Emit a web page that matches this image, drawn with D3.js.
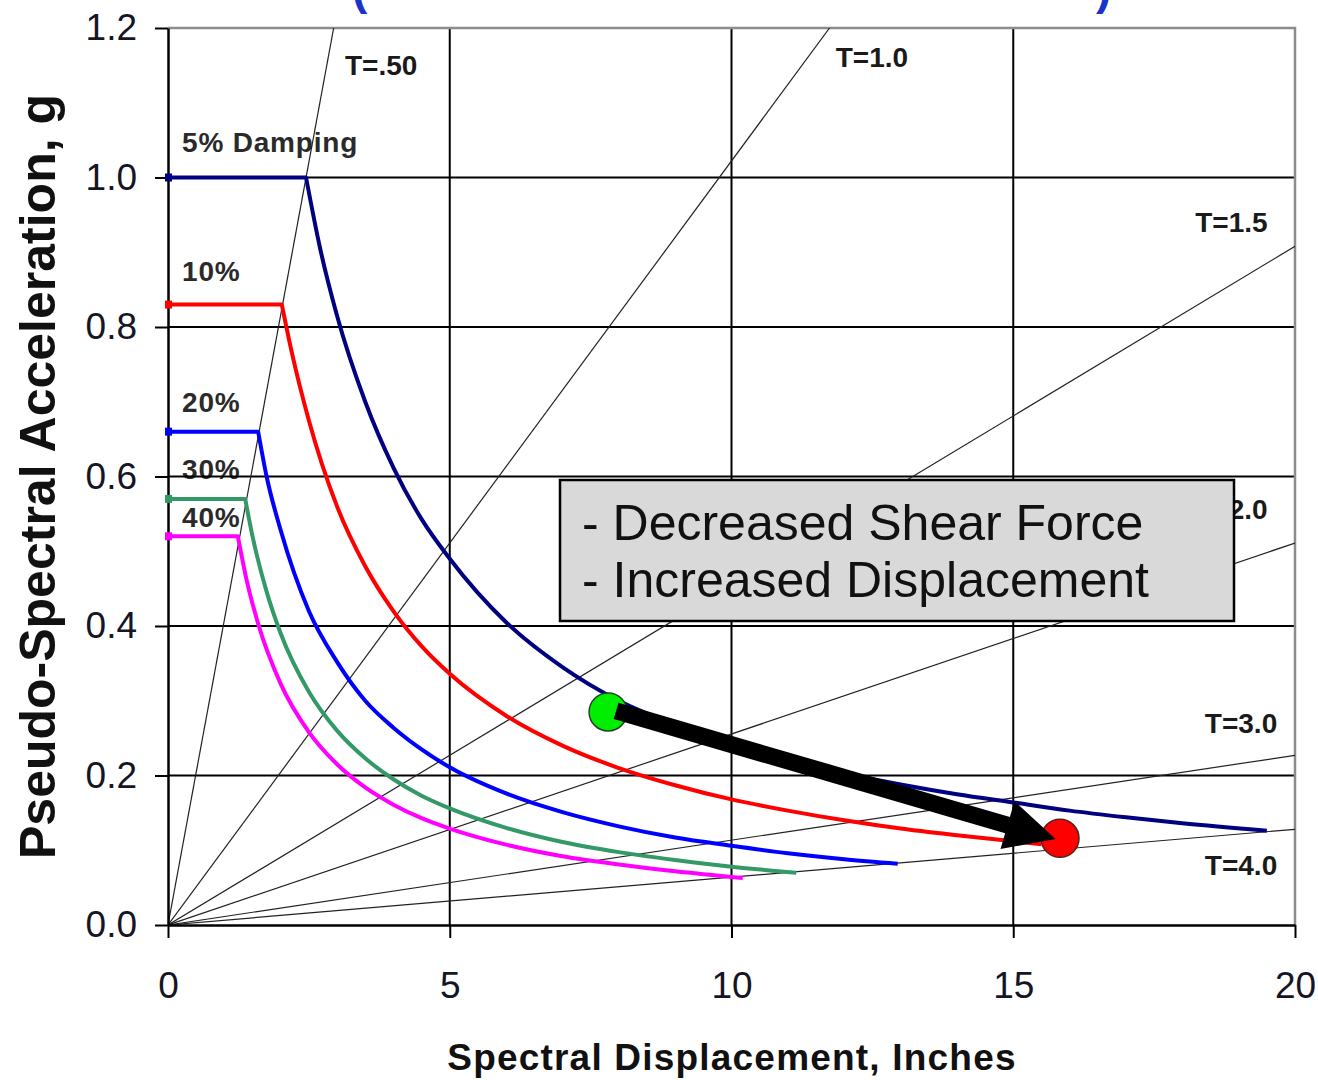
<!DOCTYPE html>
<html>
<head>
<meta charset="utf-8">
<script src="https://cdn.jsdelivr.net/npm/d3@7"></script>
<style>
  body { margin: 0; background: #fff; }
  svg { display: block; font-family: Arial, "Liberation Sans", sans-serif; }
</style>
</head>
<body>
<svg id="chart" width="1318" height="1080"></svg>
<script>
// ------------------
// Data
// ------------------
const sdTicks = [0, 5, 10, 15, 20];
const saTicks = [0, 0.2, 0.4, 0.6, 0.8, 1.0, 1.2];

// constant-period lines: label, end point [Sd, Sa]
const periodLabels = ["T=.50", "T=1.0", "T=1.5", "T=2.0", "T=3.0", "T=4.0"];
const periodEnds = [[2.94, 1.2], [11.74, 1.2], [20, 0.908], [20, 0.511], [20, 0.227], [20, 0.128]];

const dampingLabels = ["5% Damping", "10%", "20%", "30%", "40%"];

const damp5 = [[0, 1.0], [2.45, 1.0], [2.7, 0.905], [3.0, 0.815], [3.5, 0.70], [4, 0.612], [4.5, 0.543],
  [5, 0.49], [6, 0.405], [7, 0.345], [8, 0.30], [9, 0.268], [10, 0.242], [11, 0.221], [12, 0.203],
  [13, 0.188], [14, 0.175], [15, 0.164], [16, 0.153], [17, 0.144], [18, 0.136], [19.5, 0.126]];
const damp10 = [[0, 0.83], [2.02, 0.83], [2.2, 0.765], [2.5, 0.675], [3, 0.56], [3.5, 0.48], [4, 0.42],
  [4.5, 0.373], [5, 0.336], [6, 0.28], [7, 0.24], [8, 0.21], [9, 0.187], [10, 0.168], [11, 0.153],
  [12, 0.14], [13, 0.129], [14, 0.12], [15.5, 0.108]];
const damp20 = [[0, 0.66], [1.6, 0.66], [1.75, 0.60], [2, 0.528], [2.5, 0.42], [3, 0.352], [3.5, 0.30],
  [4, 0.264], [4.5, 0.235], [5, 0.211], [6, 0.176], [7, 0.151], [8, 0.132], [9, 0.117], [10, 0.106],
  [11, 0.096], [12, 0.088], [12.95, 0.082]];
const damp30 = [[0, 0.57], [1.37, 0.57], [1.5, 0.52], [1.75, 0.446], [2, 0.39], [2.5, 0.312], [3, 0.26],
  [3.5, 0.223], [4, 0.195], [4.5, 0.173], [5, 0.156], [6, 0.13], [7, 0.111], [8, 0.0975], [9, 0.087],
  [10, 0.078], [11.15, 0.07]];
const damp40 = [[0, 0.52], [1.24, 0.52], [1.4, 0.46], [1.6, 0.403], [2, 0.3225], [2.5, 0.258], [3, 0.215],
  [3.5, 0.184], [4, 0.161], [4.5, 0.143], [5, 0.129], [6, 0.1075], [7, 0.092], [8, 0.081], [9, 0.072],
  [10.2, 0.063]];
const dampingSeries = [damp5, damp10, damp20, damp30, damp40];

// performance points: before (green) and after (red)
const pointBefore = [7.81, 0.285];
const pointAfter = [15.83, 0.116];
const arrowTip = [15.75, 0.115];

const boxLines = ["- Decreased Shear Force", "- Increased Displacement"];

// ------------------
// Styles / layout
// ------------------
const dampingColors = ["#000080", "#ff0000", "#0000ff", "#339966", "#ff00ff"];
// label anchors in data units
const periodLabelPos = [[3.14, 1.137], [11.85, 1.148], [18.23, 0.927], [18.23, 0.543], [18.4, 0.257], [18.4, 0.067]];
const dampingLabelPos = [[0.25, 1.034], [0.25, 0.862], [0.25, 0.686], [0.25, 0.597], [0.25, 0.532]];

const svg = d3.select("#chart");
const x = d3.scaleLinear().domain([0, 20]).range([168, 1295]);
const y = d3.scaleLinear().domain([0, 1.2]).range([925, 28]);

svg.append("defs").append("clipPath").attr("id", "plotClip")
  .append("rect")
  .attr("x", x(0)).attr("y", y(1.2))
  .attr("width", x(20) - x(0)).attr("height", y(0) - y(1.2));

// cropped title (only the bottom of the brackets shows)
svg.append("text").attr("x", 352).attr("y", 4)
  .attr("font-size", 46).attr("font-weight", "bold").attr("fill", "#1a33c8").text("(");
svg.append("text").attr("x", 1096).attr("y", 4)
  .attr("font-size", 46).attr("font-weight", "bold").attr("fill", "#1a33c8").text(")");

// damping labels (drawn under grid)
svg.append("g").selectAll("text")
  .data(dampingLabels)
  .join("text")
  .attr("x", (d, i) => x(dampingLabelPos[i][0]))
  .attr("y", (d, i) => y(dampingLabelPos[i][1]))
  .attr("font-size", 28).attr("font-weight", "bold")
  .attr("letter-spacing", 0.8)
  .attr("fill", "#2a2a2a")
  .text(d => d);

// period labels
svg.append("g").selectAll("text")
  .data(periodLabels)
  .join("text")
  .attr("x", (d, i) => x(periodLabelPos[i][0]))
  .attr("y", (d, i) => y(periodLabelPos[i][1]))
  .attr("font-size", 28).attr("font-weight", "bold")
  .attr("fill", "#1a1a1a")
  .text(d => d);

// grid
const grid = svg.append("g");
grid.selectAll("line.h")
  .data(saTicks.filter(v => v > 0 && v < 1.2))
  .join("line").attr("class", "h")
  .attr("x1", x(0)).attr("x2", x(20))
  .attr("y1", d => y(d)).attr("y2", d => y(d))
  .attr("stroke", "#000").attr("stroke-width", 2);
grid.selectAll("line.v")
  .data(sdTicks.filter(v => v > 0 && v < 20))
  .join("line").attr("class", "v")
  .attr("y1", y(0)).attr("y2", y(1.2))
  .attr("x1", d => x(d)).attr("x2", d => x(d))
  .attr("stroke", "#000").attr("stroke-width", 2);

// plot border top / right
svg.append("path")
  .attr("d", `M${x(0)},${y(1.2)}H${x(20)}V${y(0)}`)
  .attr("fill", "none").attr("stroke", "#8c8c8c").attr("stroke-width", 2.5);

// period lines
svg.append("g").attr("clip-path", "url(#plotClip)")
  .selectAll("line")
  .data(periodEnds)
  .join("line")
  .attr("x1", x(0)).attr("y1", y(0))
  .attr("x2", d => x(d[0])).attr("y2", d => y(d[1]))
  .attr("stroke", "#222").attr("stroke-width", 1.2);

// axes
const yAxis = svg.append("g")
  .attr("transform", `translate(${x(0)},0)`)
  .call(d3.axisLeft(y).tickValues(saTicks).tickFormat(d3.format(".1f")).tickSize(13).tickPadding(18).tickSizeOuter(0));
const xAxis = svg.append("g")
  .attr("transform", `translate(0,${y(0)})`)
  .call(d3.axisBottom(x).tickValues(sdTicks).tickFormat(d3.format("d")).tickSize(13).tickPadding(34).tickSizeOuter(0));
[yAxis, xAxis].forEach(a => {
  a.select(".domain").attr("stroke", "#000").attr("stroke-width", 2.5);
  a.selectAll(".tick line").attr("stroke", "#000").attr("stroke-width", 2);
  a.selectAll(".tick text").attr("font-size", 37).attr("fill", "#151525")
    .attr("font-family", "Arial, 'Liberation Sans', sans-serif");
});

// damping curves: flat plateau, then a smooth decay
const decay = d3.line().x(d => x(d[0])).y(d => y(d[1])).curve(d3.curveMonotoneX);
const spectrumPath = s => `M${x(s[0][0])},${y(s[0][1])}` + decay(s.slice(1)).replace(/^M/, "L");
const curves = svg.append("g");
curves.selectAll("path")
  .data(dampingSeries)
  .join("path")
  .attr("d", spectrumPath)
  .attr("fill", "none")
  .attr("stroke", (d, i) => dampingColors[i])
  .attr("stroke-width", 4)
  .attr("stroke-linejoin", "round");
curves.selectAll("rect")
  .data(dampingSeries)
  .join("rect")
  .attr("x", d => x(d[0][0]) - 3).attr("y", d => y(d[0][1]) - 4)
  .attr("width", 7).attr("height", 8)
  .attr("fill", (d, i) => dampingColors[i]);

// text box
const box = svg.append("g");
box.append("rect")
  .attr("x", 560).attr("y", 480).attr("width", 674).attr("height", 141)
  .attr("fill", "#d9d9d9").attr("stroke", "#000").attr("stroke-width", 2.5);
box.selectAll("text")
  .data(boxLines)
  .join("text")
  .attr("x", 582)
  .attr("y", (d, i) => 540 + i * 57)
  .attr("font-size", 50)
  .attr("fill", "#111")
  .text(d => d);

// performance points
svg.append("circle")
  .attr("cx", x(pointBefore[0])).attr("cy", y(pointBefore[1]))
  .attr("r", 19)
  .attr("fill", "#00ee00").attr("stroke", "#224422").attr("stroke-width", 1.5);
svg.append("circle")
  .attr("cx", x(pointAfter[0])).attr("cy", y(pointAfter[1]))
  .attr("r", 19)
  .attr("fill", "#ff0000").attr("stroke", "#552222").attr("stroke-width", 1.5);

// arrow
const x0 = x(pointBefore[0]) + 8, y0 = y(pointBefore[1]) - 1;
const x1 = x(arrowTip[0]), y1 = y(arrowTip[1]);
const ang = Math.atan2(y1 - y0, x1 - x0);
const headLen = 50, headW = 25, shaft = 8.5;
const bx = x1 - headLen * Math.cos(ang), by = y1 - headLen * Math.sin(ang);
const nx = -Math.sin(ang), ny = Math.cos(ang);
svg.append("path")
  .attr("d", [
    "M", x0 + nx * shaft, y0 + ny * shaft,
    "L", bx + nx * shaft, by + ny * shaft,
    "L", bx + nx * headW, by + ny * headW,
    "L", x1, y1,
    "L", bx - nx * headW, by - ny * headW,
    "L", bx - nx * shaft, by - ny * shaft,
    "L", x0 - nx * shaft, y0 - ny * shaft, "Z"
  ].join(" "))
  .attr("fill", "#000");

// axis titles
svg.append("text")
  .attr("transform", `translate(55,${(y(0) + y(1.2)) / 2}) rotate(-90)`)
  .attr("text-anchor", "middle")
  .attr("font-size", 50).attr("font-weight", "bold").attr("fill", "#111")
  .text("Pseudo-Spectral Acceleration, g");
svg.append("text")
  .attr("x", 732).attr("y", 1070)
  .attr("text-anchor", "middle")
  .attr("font-size", 37).attr("font-weight", "bold").attr("fill", "#111")
  .attr("letter-spacing", 1.2)
  .text("Spectral Displacement, Inches");
</script>
</body>
</html>
